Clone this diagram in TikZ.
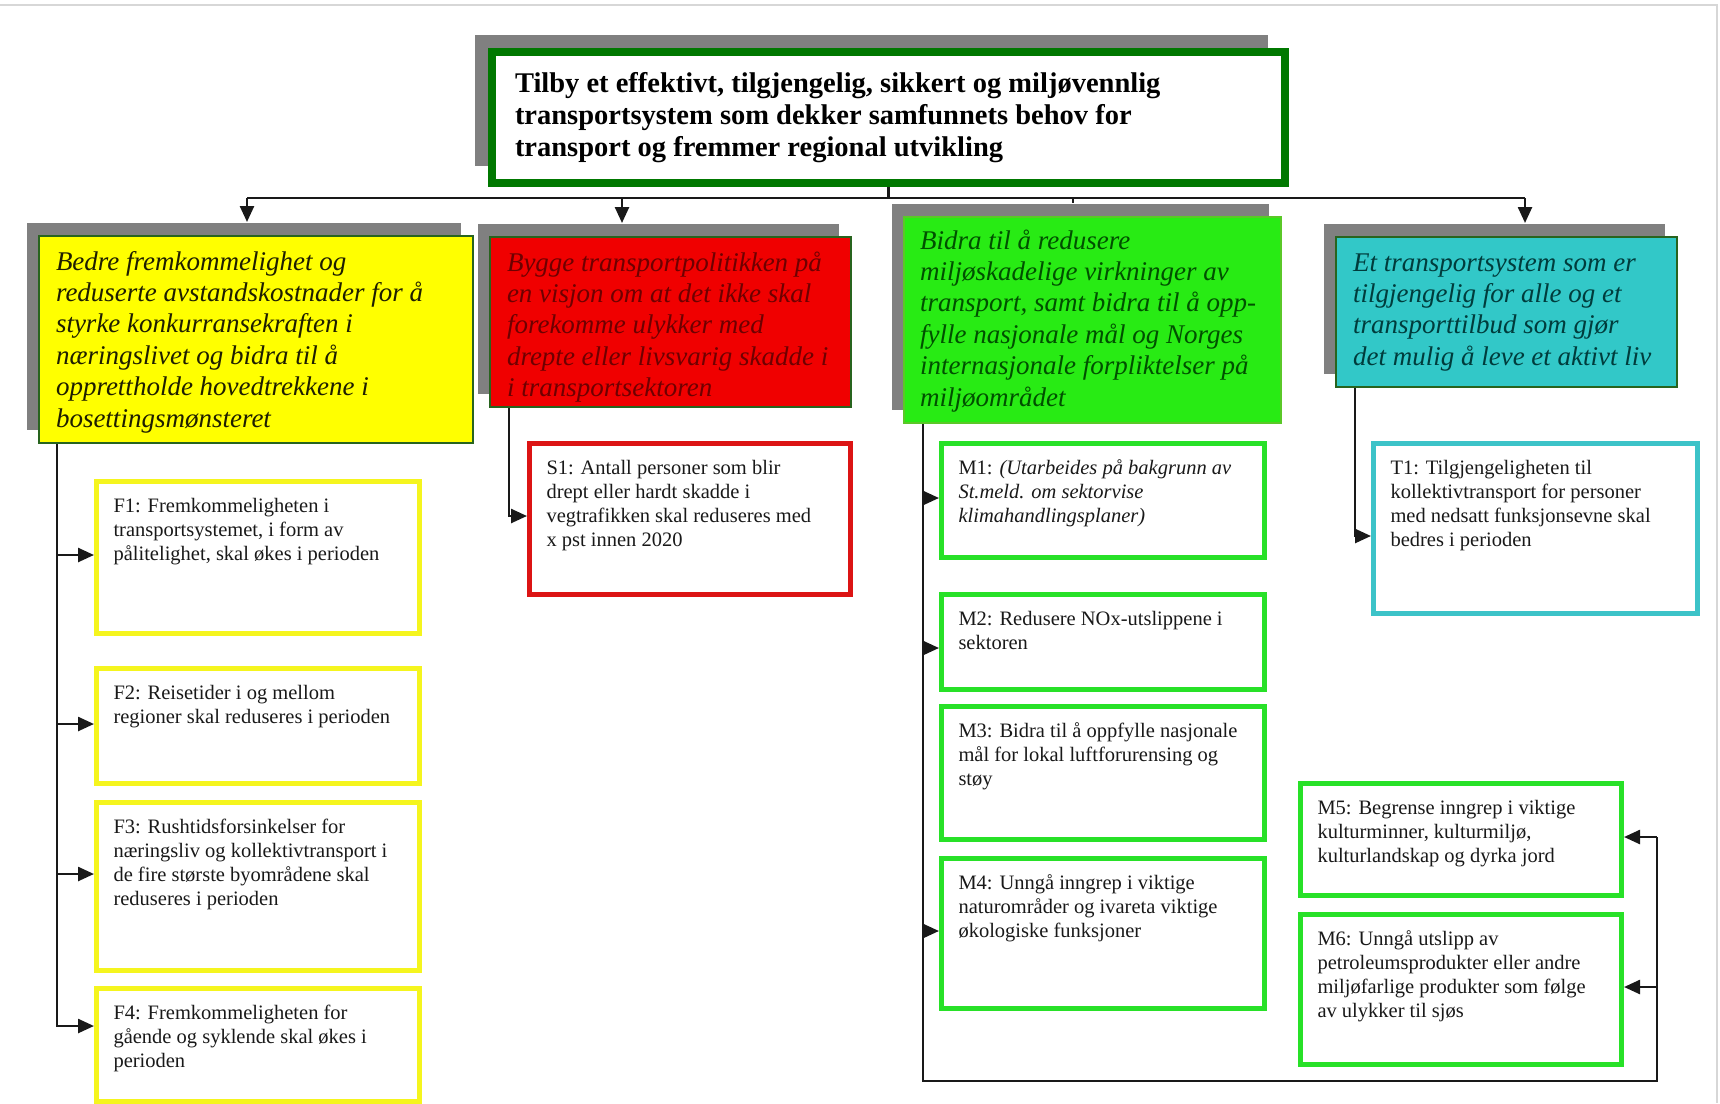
\documentclass[tikz,border=0pt]{standalone}
\usepackage{fontspec}
\setmainfont{Liberation Serif}
\usetikzlibrary{arrows.meta,shadows,calc}

\definecolor{shgray}{RGB}{128,128,128}
\definecolor{topgreen}{RGB}{0,120,0}
\definecolor{hdborder}{RGB}{40,100,30}
\definecolor{hgborder}{RGB}{90,200,40}
\definecolor{hyellow}{RGB}{255,255,0}
\definecolor{hred}{RGB}{240,0,0}
\definecolor{hgreen}{RGB}{40,235,20}
\definecolor{hcyan}{RGB}{50,200,200}
\definecolor{tyellow}{RGB}{30,30,0}
\definecolor{tred}{RGB}{110,0,0}
\definecolor{tgreen}{RGB}{0,80,0}
\definecolor{tcyan}{RGB}{0,60,60}
\definecolor{kyellow}{RGB}{245,245,30}
\definecolor{kred}{RGB}{220,20,20}
\definecolor{kgreen}{RGB}{40,225,40}
\definecolor{kcyan}{RGB}{60,195,200}
\definecolor{framegray}{RGB}{215,215,215}

% width, height, left inset, first baseline, text
\newcommand\bxt[5]{\parbox[c][#2pt][t]{#1pt}{\raggedright\leftskip=#3pt\relax\rightskip=-80pt plus 1fil\relax\rule{0pt}{#4pt}#5}}

\begin{document}
\begin{tikzpicture}[x=1pt,y=-1pt,
  conn/.style={line width=2.5pt, draw=black!90},
  arr/.style={conn, -{Triangle[length=16pt,width=14pt]}},
  kid/.style={draw=#1, line width=5pt, fill=white, inner sep=0pt, anchor=north west,
    font=\fontsize{20.5}{24}\selectfont, text=black!90},
  head/.style={draw=hdborder, line width=2pt, inner sep=0pt, anchor=north west,
    font=\fontsize{27}{31.4}\selectfont\itshape,
    drop shadow={shadow xshift=-12pt, shadow yshift=13pt, fill=shgray, opacity=1}},
  topbox/.style={draw=topgreen, line width=8pt, fill=white, inner sep=0pt, anchor=north west,
    font=\fontsize{28.5}{32.4}\selectfont\bfseries, text=black,
    drop shadow={shadow xshift=-17pt, shadow yshift=17pt, fill=shgray, opacity=1}}
]
\fill[white] (0,0) rectangle (1720,1103);
\useasboundingbox (0,0) rectangle (1720,1103);
\draw[framegray, line width=2pt] (0,5) -- (1717,5) -- (1717,1103);

% top goal
\node[topbox] (T) at (488,48) {\bxt{793}{131}{23}{40}{Tilby et effektivt, tilgjengelig, sikkert og miljøvennlig\\transportsystem som dekker samfunnets behov for\\transport og fremmer regional utvikling}};

% main goals
\node[head, fill=hyellow, text=tyellow] (Y) at (38,235) {\bxt{434}{207}{17}{34}{Bedre fremkommelighet og\\reduserte avstandskostnader for å\\styrke konkurransekraften i\\næringslivet og bidra til å\\opprettholde hovedtrekkene i\\bosettingsmønsteret}};
\node[head, fill=hred, text=tred] (R) at (489,236) {\bxt{361}{170}{17}{34}{Bygge transportpolitikken på\\en visjon om at det ikke skal\\forekomme ulykker med\\drepte eller livsvarig skadde i\\i transportsektoren}};
\node[head, draw=hgborder, fill=hgreen, text=tgreen] (G) at (903,216) {\bxt{377}{206}{16}{32}{Bidra til å redusere\\miljøskadelige virkninger av\\transport, samt bidra til å opp-\\fylle nasjonale mål og Norges\\internasjonale forpliktelser på\\miljøområdet}};
\node[head, fill=hcyan, text=tcyan] (C) at (1335,236) {\bxt{341}{150}{17}{34}{Et transportsystem som er\\tilgjengelig for alle og et\\transporttilbud som gjør\\det mulig å leve et aktivt liv}};

% sub goals
\node[kid=kyellow] (F1) at (94,479) {\bxt{323}{152}{17}{31}{F1: Fremkommeligheten i\\transportsystemet, i form av\\pålitelighet, skal økes i perioden}};
\node[kid=kyellow] (F2) at (94,666) {\bxt{323}{115}{17}{31}{F2: Reisetider i og mellom\\regioner skal reduseres i perioden}};
\node[kid=kyellow] (F3) at (94,800) {\bxt{323}{168}{17}{31}{F3: Rushtidsforsinkelser for\\næringsliv og kollektivtransport i\\de fire største byområdene skal\\reduseres i perioden}};
\node[kid=kyellow] (F4) at (94,986) {\bxt{323}{113}{17}{31}{F4: Fremkommeligheten for\\gående og syklende skal økes i\\perioden}};

\node[kid=kred] (S1) at (527,441) {\bxt{321}{151}{17}{31}{S1: Antall personer som blir\\drept eller hardt skadde i\\vegtrafikken skal reduseres med\\x pst innen 2020}};

\node[kid=kgreen] (M1) at (939,441) {\bxt{323}{114}{17}{31}{M1: {\itshape (Utarbeides på bakgrunn av\\St.meld. om sektorvise\\klimahandlingsplaner)}}};
\node[kid=kgreen] (M2) at (939,592) {\bxt{323}{95}{17}{31}{M2: Redusere NOx-utslippene i\\sektoren}};
\node[kid=kgreen] (M3) at (939,704) {\bxt{323}{133}{17}{31}{M3: Bidra til å oppfylle nasjonale\\mål for lokal luftforurensing og\\støy}};
\node[kid=kgreen] (M4) at (939,856) {\bxt{323}{150}{17}{31}{M4: Unngå inngrep i viktige\\naturområder og ivareta viktige\\økologiske funksjoner}};
\node[kid=kgreen] (M5) at (1298,781) {\bxt{321}{112}{17}{31}{M5: Begrense inngrep i viktige\\kulturminner, kulturmiljø,\\kulturlandskap og dyrka jord}};
\node[kid=kgreen] (M6) at (1298,912) {\bxt{321}{150}{17}{31}{M6: Unngå utslipp av\\petroleumsprodukter eller andre\\miljøfarlige produkter som følge\\av ulykker til sjøs}};

\node[kid=kcyan] (T1) at (1371,441) {\bxt{324}{170}{17}{31}{T1: Tilgjengeligheten til\\kollektivtransport for personer\\med nedsatt funksjonsevne skal\\bedres i perioden}};

% top bus
\coordinate (bus) at (884,198);
\coordinate (yA) at ($(Y.north west)+(209,-13)$);
\coordinate (rA) at ($(R.north west)+(133,-13)$);
\coordinate (gA) at ($(G.north west)+(170,-13)$);
\coordinate (cA) at ($(C.north west)+(190,-13)$);
\draw[conn] (T.south) -- (T.south |- bus);
\draw[conn] (yA |- bus) -- (cA |- bus);
\draw[arr] (yA |- bus) -- (yA);
\draw[arr] (rA |- bus) -- (rA);
\draw[conn] (gA |- bus) -- (gA);
\draw[arr] (cA |- bus) -- (cA);

% yellow branch
\coordinate (yV) at ($(Y.south west)+(19,0)$);
\coordinate (f1a) at ($(F1.north west)+(0,76)$);
\coordinate (f2a) at ($(F2.north west)+(0,58)$);
\coordinate (f3a) at ($(F3.north west)+(0,74)$);
\coordinate (f4a) at ($(F4.north west)+(0,40)$);
\draw[arr] (yV) |- (f4a);
\draw[arr] (yV |- f1a) -- (f1a);
\draw[arr] (yV |- f2a) -- (f2a);
\draw[arr] (yV |- f3a) -- (f3a);

% red branch
\coordinate (rV) at ($(R.south west)+(20,0)$);
\coordinate (s1a) at ($(S1.north west)+(0,75)$);
\draw[arr] (rV) |- (s1a);

% green branch
\coordinate (gV) at ($(G.south west)+(20,0)$);
\coordinate (gB) at (1657,1081);
\coordinate (m1a) at ($(M1.north west)+(0,57)$);
\coordinate (m2a) at ($(M2.north west)+(0,56)$);
\coordinate (m4a) at ($(M4.north west)+(0,75)$);
\coordinate (m5a) at ($(M5.north east)+(0,56)$);
\coordinate (m6a) at ($(M6.north east)+(0,75)$);
\draw[conn] (gV) |- (gB) -- (gB |- m5a);
\draw[arr] (gV |- m1a) -- (m1a);
\draw[arr] (gV |- m2a) -- (m2a);
\draw[arr] (gV |- m4a) -- (m4a);
\draw[arr] (gB |- m5a) -- (m5a);
\draw[arr] (gB |- m6a) -- (m6a);

% cyan branch
\coordinate (cV) at ($(C.south west)+(20,0)$);
\coordinate (t1a) at ($(T1.north west)+(0,95)$);
\draw[arr] (cV) |- (t1a);
\end{tikzpicture}
\end{document}
